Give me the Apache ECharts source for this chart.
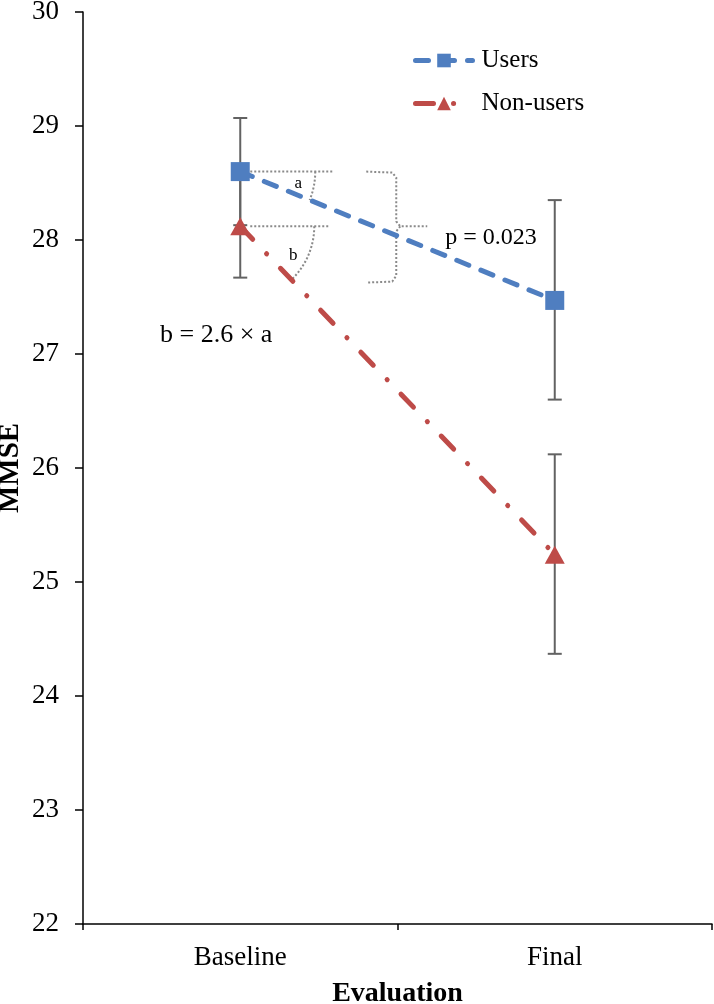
<!DOCTYPE html>
<html>
<head>
<meta charset="utf-8">
<script src="https://cdn.jsdelivr.net/npm/echarts@6/dist/echarts.min.js"></script>
<style>
  html, body { margin: 0; padding: 0; background: #fff; }
  #chart { width: 714px; height: 1004px; }
</style>
</head>
<body>
<div id="chart"></div>
<script>
// data
const categories = ['Baseline', 'Final'];
const usersMean = [28.6, 27.47];
const usersLow = [28.13, 26.6];
const usersHigh = [29.07, 28.35];
const nonUsersMean = [28.12, 25.24];
const nonUsersLow = [27.67, 24.37];
const nonUsersHigh = [28.57, 26.12];
const yMin = 22;
const yMax = 30;
const yStep = 1;

const FONT = '"Liberation Serif", "DejaVu Serif", serif';
const BLUE = '#4F7EC0';
const RED = '#BE4B48';
const ERR = '#626262';

const chart = echarts.init(document.getElementById('chart'));

function renderErrorBar(params, api) {
  const x = api.value(0);
  const lo = api.coord([x, api.value(1)]);
  const hi = api.coord([x, api.value(2)]);
  const w = 7;
  const style = { stroke: ERR, lineWidth: 2, fill: null };
  return {
    type: 'group',
    children: [
      { type: 'line', shape: { x1: lo[0], y1: lo[1], x2: hi[0], y2: hi[1] }, style: style },
      { type: 'line', shape: { x1: hi[0] - w, y1: hi[1], x2: hi[0] + w, y2: hi[1] }, style: style },
      { type: 'line', shape: { x1: lo[0] - w, y1: lo[1], x2: lo[0] + w, y2: lo[1] }, style: style }
    ]
  };
}

const errData = (lo, hi) => categories.map((c, i) => [i, lo[i], hi[i]]);

const option = {
  animation: false,
  backgroundColor: '#fff',
  grid: { left: 83, right: 2, top: 12, bottom: 80, containLabel: false, outerBoundsMode: 'none' },
  legend: {
    orient: 'vertical',
    left: 408,
    top: 43,
    itemWidth: 57,
    itemHeight: 17,
    itemGap: 18,
    data: ['Users', 'Non-users'],
    lineStyle: { width: 5 },
    textStyle: { fontFamily: FONT, fontSize: 25, color: '#000', padding: [0, 0, 0, 4] }
  },
  xAxis: {
    type: 'category',
    data: categories,
    name: 'Evaluation',
    nameLocation: 'middle',
    nameGap: 56,
    nameTextStyle: { fontFamily: FONT, fontSize: 28, fontWeight: 'bold', color: '#000' },
    axisLine: { lineStyle: { color: '#000', width: 1.5 } },
    axisTick: { show: true, length: 6, alignWithLabel: false, lineStyle: { color: '#000', width: 1.5 } },
    axisLabel: { fontFamily: FONT, fontSize: 27, color: '#000', margin: 20 },
    splitLine: { show: false }
  },
  yAxis: {
    type: 'value',
    min: yMin,
    max: yMax,
    interval: yStep,
    name: 'MMSE',
    nameLocation: 'middle',
    nameGap: 58,
    nameMoveOverlap: false,
    nameRotate: 90,
    nameTextStyle: { fontFamily: FONT, fontSize: 29, fontWeight: 'bold', color: '#000' },
    axisLine: { show: true, lineStyle: { color: '#000', width: 1.5 } },
    axisTick: { show: true, length: 8, lineStyle: { color: '#000', width: 1.5 } },
    axisLabel: { fontFamily: FONT, fontSize: 27, color: '#000', margin: 24 },
    splitLine: { show: false }
  },
  series: [
    {
      name: 'Users',
      type: 'line',
      data: usersMean,
      z: 3,
      symbol: 'rect',
      symbolSize: 19,
      itemStyle: { color: BLUE },
      lineStyle: { color: BLUE, width: 5, type: [13, 13], cap: 'round' }
    },
    {
      name: 'Non-users',
      type: 'line',
      data: nonUsersMean,
      z: 3,
      symbol: 'triangle',
      symbolSize: [20, 18],
      itemStyle: { color: RED },
      lineStyle: { color: RED, width: 5, type: [18, 20, 0.1, 20], cap: 'round' }
    },
    {
      name: 'usersErr',
      type: 'custom',
      z: 1,
      renderItem: renderErrorBar,
      data: errData(usersLow, usersHigh),
      encode: { x: 0, y: [1, 2] }
    },
    {
      name: 'nonUsersErr',
      type: 'custom',
      z: 1,
      renderItem: renderErrorBar,
      data: errData(nonUsersLow, nonUsersHigh),
      encode: { x: 0, y: [1, 2] }
    }
  ]
};

chart.setOption(option);

// annotations, anchored on the baseline points
const pU = chart.convertToPixel({ gridIndex: 0 }, [0, usersMean[0]]);
const pN = chart.convertToPixel({ gridIndex: 0 }, [0, nonUsersMean[0]]);
const pUf = chart.convertToPixel({ gridIndex: 0 }, [1, usersMean[1]]);
const pNf = chart.convertToPixel({ gridIndex: 0 }, [1, nonUsersMean[1]]);
const angA = Math.atan2(pUf[1] - pU[1], pUf[0] - pU[0]);
const angB = Math.atan2(pNf[1] - pN[1], pNf[0] - pN[0]);
const dot = { stroke: '#8a8a8a', lineWidth: 2, lineDash: [2, 2], fill: null };

const bx = pU[0] + 156;
const midY = pN[1];
const botY = pU[1] + 110;

chart.setOption({
  graphic: [
    { type: 'line', shape: { x1: pU[0] + 10, y1: pU[1], x2: pU[0] + 94, y2: pU[1] }, style: dot, z: 0 },
    { type: 'line', shape: { x1: pN[0] + 10, y1: pN[1], x2: pN[0] + 89, y2: pN[1] }, style: dot, z: 0 },
    { type: 'arc', shape: { cx: pU[0], cy: pU[1], r: 75, startAngle: 0, endAngle: angA, clockwise: true }, style: dot, z: 0 },
    { type: 'arc', shape: { cx: pN[0], cy: pN[1], r: 74, startAngle: 0, endAngle: angB, clockwise: true }, style: dot, z: 0 },
    { type: 'text', x: pU[0] + 58, y: pU[1] + 12, style: { text: 'a', font: '17px ' + FONT, fill: '#000', align: 'center', verticalAlign: 'middle' } },
    { type: 'text', x: pN[0] + 53, y: pN[1] + 29, style: { text: 'b', font: '17px ' + FONT, fill: '#000', align: 'center', verticalAlign: 'middle' } },
    {
      type: 'polyline', z: 0,
      shape: { points: [[bx - 30, pU[1]], [bx - 4, pU[1] + 1], [bx, pU[1] + 6], [bx, midY - 5], [bx + 4, midY], [bx + 31, midY]] },
      style: dot
    },
    {
      type: 'polyline', z: 0,
      shape: { points: [[bx + 4, midY], [bx, midY + 5], [bx, botY - 6], [bx - 4, botY], [bx - 30, botY + 1]] },
      style: dot
    },
    { type: 'text', x: 491, y: midY + 11, style: { text: 'p = 0.023', font: '24px ' + FONT, fill: '#000', align: 'center', verticalAlign: 'middle' } },
    { type: 'text', x: 160, y: 335, style: { text: 'b = 2.6 × a', font: '26px ' + FONT, fill: '#000', align: 'left', verticalAlign: 'middle' } }
  ]
});
</script>
</body>
</html>
